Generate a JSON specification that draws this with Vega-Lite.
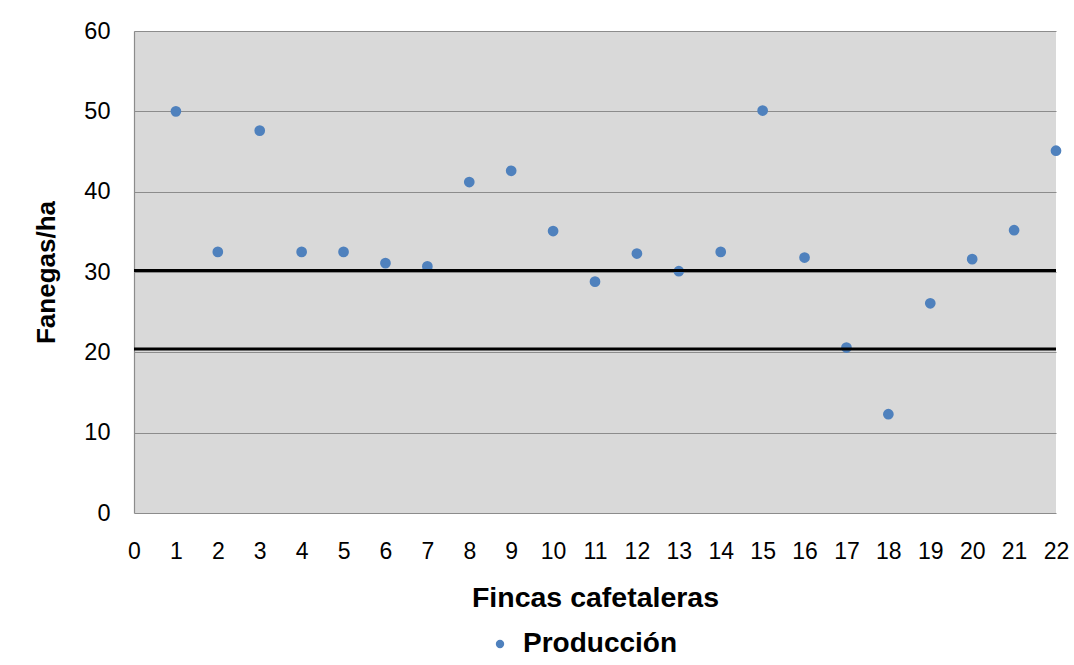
{
  "$schema": "https://vega.github.io/schema/vega-lite/v6.json",
  "autosize": {"type": "none"},
  "width": 922,
  "height": 482,
  "padding": {"left": 134, "top": 31, "right": 18, "bottom": 152},
  "background": "white",
  "config": {
    "font": "Liberation Sans",
    "view": {"fill": "#d9d9d9", "stroke": null}
  },
  "datasets": {
    "fincas": [
      {"finca": 1, "fanegas": 50.0, "serie": "Producción"},
      {"finca": 2, "fanegas": 32.5, "serie": "Producción"},
      {"finca": 3, "fanegas": 47.6, "serie": "Producción"},
      {"finca": 4, "fanegas": 32.5, "serie": "Producción"},
      {"finca": 5, "fanegas": 32.5, "serie": "Producción"},
      {"finca": 6, "fanegas": 31.1, "serie": "Producción"},
      {"finca": 7, "fanegas": 30.7, "serie": "Producción"},
      {"finca": 8, "fanegas": 41.2, "serie": "Producción"},
      {"finca": 9, "fanegas": 42.6, "serie": "Producción"},
      {"finca": 10, "fanegas": 35.1, "serie": "Producción"},
      {"finca": 11, "fanegas": 28.8, "serie": "Producción"},
      {"finca": 12, "fanegas": 32.3, "serie": "Producción"},
      {"finca": 13, "fanegas": 30.1, "serie": "Producción"},
      {"finca": 14, "fanegas": 32.5, "serie": "Producción"},
      {"finca": 15, "fanegas": 50.1, "serie": "Producción"},
      {"finca": 16, "fanegas": 31.8, "serie": "Producción"},
      {"finca": 17, "fanegas": 20.6, "serie": "Producción"},
      {"finca": 18, "fanegas": 12.3, "serie": "Producción"},
      {"finca": 19, "fanegas": 26.1, "serie": "Producción"},
      {"finca": 20, "fanegas": 31.6, "serie": "Producción"},
      {"finca": 21, "fanegas": 35.2, "serie": "Producción"},
      {"finca": 22, "fanegas": 45.1, "serie": "Producción"}
    ],
    "limites": [
      {"limite": 30.2},
      {"limite": 20.4}
    ]
  },
  "layer": [
    {
      "data": {"name": "fincas"},
      "mark": {"type": "point", "shape": "circle", "filled": true, "opacity": 1, "size": 115},
      "encoding": {
        "x": {
          "field": "finca",
          "type": "quantitative",
          "scale": {"domain": [0, 22], "nice": false, "zero": false},
          "axis": {
            "title": "Fincas cafetaleras",
            "values": [0,1,2,3,4,5,6,7,8,9,10,11,12,13,14,15,16,17,18,19,20,21,22],
            "format": "d",
            "grid": false,
            "domain": false,
            "ticks": false,
            "tickSize": 0,
            "labelFontSize": 23,
            "labelColor": "black",
            "labelPadding": 27,
            "labelFlush": false,
            "labelOverlap": false,
            "titleFontSize": 28.5,
            "titleFontWeight": "bold",
            "titleColor": "black",
            "titlePadding": 20
          }
        },
        "y": {
          "field": "fanegas",
          "type": "quantitative",
          "scale": {"domain": [0, 60], "nice": false},
          "axis": {
            "title": "Fanegas/ha",
            "values": [0, 10, 20, 30, 40, 50, 60],
            "grid": true,
            "gridColor": "#8c8c8c",
            "gridWidth": 1.2,
            "gridOpacity": 1,
            "domain": true,
            "domainColor": "#8c8c8c",
            "domainWidth": 1.2,
            "ticks": false,
            "tickSize": 0,
            "labelFontSize": 23.5,
            "labelColor": "black",
            "labelPadding": 24,
            "labelFlush": false,
            "titleFontSize": 26,
            "titleFontWeight": "bold",
            "titleColor": "black",
            "titlePadding": 24
          }
        },
        "color": {
          "field": "serie",
          "type": "nominal",
          "scale": {"range": ["#4f81bd"]},
          "legend": {
            "title": null,
            "orient": "none",
            "legendX": 352,
            "legendY": 599,
            "symbolType": "circle",
            "symbolSize": 70,
            "symbolOpacity": 1,
            "symbolStrokeWidth": 0,
            "labelFontSize": 28,
            "labelFontWeight": "bold",
            "labelColor": "black",
            "labelOffset": 9
          }
        }
      }
    },
    {
      "data": {"name": "limites"},
      "mark": {"type": "rule", "color": "black", "strokeWidth": 3},
      "encoding": {
        "y": {"field": "limite", "type": "quantitative"}
      }
    }
  ]
}
